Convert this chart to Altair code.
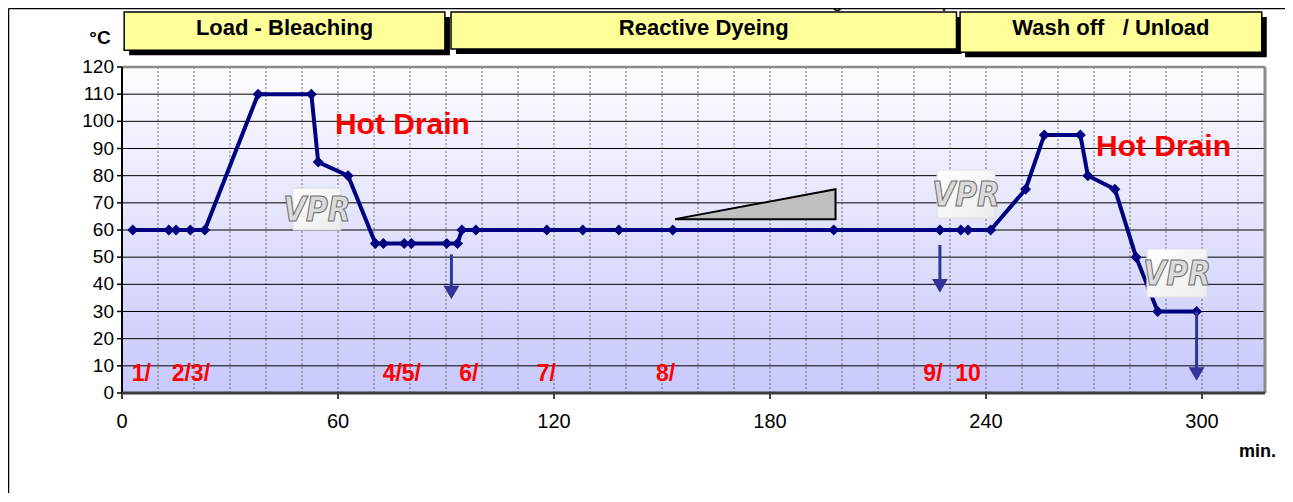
import altair as alt
import pandas as pd

# ---------------- data ----------------
# process curve (minutes, °C)
times = [3, 13, 15, 19, 23, 37.8, 52.6, 54.5, 62.8, 70.4, 72.6, 78.4, 80.4, 90.2, 93.2,
         94.4, 98.3, 118, 128, 138, 153, 197.7, 227.2, 233, 235, 241.3,
         251, 256.2, 266.2, 268.3, 275.8, 281.7, 287.7, 298.5]
temps = [60, 60, 60, 60, 60, 110, 110, 85, 80, 55, 55, 55, 55, 55, 55,
         60, 60, 60, 60, 60, 60, 60, 60, 60, 60, 60,
         75, 95, 95, 80, 75, 50, 30, 30]

# axis ticks / grid
x_labels = [0, 60, 120, 180, 240, 300]
x_grid = [10, 20, 30, 40, 50, 60, 70, 80, 90, 100, 110, 120, 130, 140, 150, 160,
          170, 180, 190, 200, 210, 220, 230, 240, 250, 260, 270, 280, 290, 300, 310]
y_ticks = [0, 10, 20, 30, 40, 50, 60, 70, 80, 90, 100, 110, 120]
y_grid = [10, 20, 30, 40, 50, 60, 70, 80, 90, 100, 110]

# phase headers
phase_names = ["Load - Bleaching", "Reactive Dyeing", "Wash off\u00a0\u00a0\u00a0/ Unload"]
phase_start = [0.6, 91.4, 232.8]
phase_end = [89.7, 231.8, 316.6]
phase_top = [140.2, 140.2, 140.2]
phase_bottom = [126.2, 126.6, 125.4]
phase_text_y = [134.3, 134.3, 134.3]

# step labels
step_labels = ["1/", "2/3/", "4/5/", "6/", "7/", "8/", "9/\u00a0\u00a010"]
step_x = [2.7, 13.8, 72.4, 93.7, 115.2, 148.3, 222.6]
step_y = [7, 7, 7, 7, 7, 7, 7]

# hot drain labels
drain_labels = ["Hot Drain", "Hot Drain"]
drain_x = [77.9, 289.3]
drain_y = [98.5, 90.5]

# VPR stamps
vpr_x0 = [47.5, 226.4, 284.7]
vpr_x1 = [60.8, 242.5, 301.4]
vpr_y0 = [60.0, 64.4, 35.3]
vpr_y1 = [75.4, 82.1, 53.0]
vpr_text = ["VPR", "VPR", "VPR"]

# drain arrows
arrow_x = [91.5, 227.2, 298.5]
arrow_from = [51.0, 54.5, 30.0]
arrow_head = [37.0, 39.4, 7.0]

# dosing ramp triangle
ramp_t = [153.6, 198.2]
ramp_top = [64, 75]
ramp_base = [64, 64]

# ---------------- frames ----------------
curve = pd.DataFrame({"t": times, "v": temps})
phases = pd.DataFrame({"x": phase_start, "x2": phase_end, "y": phase_top, "y2": phase_bottom,
                       "ty": phase_text_y, "label": phase_names})
phases["xc"] = (phases["x"] + phases["x2"]) / 2
steps = pd.DataFrame({"x": step_x, "y": step_y, "label": step_labels})
drains = pd.DataFrame({"x": drain_x, "y": drain_y, "label": drain_labels})
vprs = pd.DataFrame({"x": vpr_x0, "x2": vpr_x1, "y": vpr_y0, "y2": vpr_y1, "label": vpr_text})
vprs["xc"] = (vprs["x"] + vprs["x2"]) / 2
vprs["yc"] = (vprs["y"] + vprs["y2"]) / 2
arrows = pd.DataFrame({"x": arrow_x, "y": arrow_from, "y2": arrow_head})
ramp = pd.DataFrame({"t": ramp_t, "v": ramp_top, "v2": ramp_base})
xg = pd.DataFrame({"g": x_grid})
yg = pd.DataFrame({"g": y_grid})
xl = pd.DataFrame({"v": x_labels})
yl = pd.DataFrame({"v": y_ticks})
one = pd.DataFrame({"a": [0]})

W, H = 1143, 326
FONT = "Liberation Sans, Arial, sans-serif"
XMAX = 317.5

xs = alt.Scale(domain=[0, XMAX], nice=False, zero=False)
ys = alt.Scale(domain=[0, 120], nice=False, zero=False)


def X(f, **kw):
    return alt.X(f, type="quantitative", scale=xs, axis=None, **kw)


def Y(f, **kw):
    return alt.Y(f, type="quantitative", scale=ys, axis=None, **kw)


def XD(v):
    return alt.datum(v, type="quantitative", scale=xs, axis=None)


def YD(v):
    return alt.datum(v, type="quantitative", scale=ys, axis=None)


background = alt.Chart(one).mark_rect(
    fill=alt.LinearGradient(
        gradient="linear", x1=0, y1=0, x2=0, y2=1,
        stops=[alt.GradientStop(color="#fcfcff", offset=0),
               alt.GradientStop(color="#c8c8fb", offset=1)],
    )
).encode(x=XD(0), x2=alt.datum(XMAX), y=YD(0), y2=alt.datum(120))

vgrid = alt.Chart(xg).mark_rule(color="#6e6e6e", strokeWidth=1, strokeDash=[2, 2]).encode(
    x=X("g"), y=YD(0), y2=alt.datum(120)
)
hgrid = alt.Chart(yg).mark_rule(color="black", strokeWidth=1).encode(
    y=Y("g"), x=XD(0), x2=alt.datum(XMAX)
)

# axes (ticks, labels, domain lines) drawn from the tick lists
y_tick_marks = alt.Chart(yl).mark_rule(color="black", strokeWidth=1.5, x2Offset=-5).encode(
    y=Y("v"), x=XD(0), x2=alt.datum(0)
)
y_tick_lbls = alt.Chart(yl).mark_text(
    font=FONT, fontSize=19, color="black", align="right", baseline="middle", dx=-8
).encode(y=Y("v"), x=XD(0), text=alt.Text("v:Q", format="d"))
x_tick_marks = alt.Chart(xl).mark_rule(color="black", strokeWidth=1.5, y2Offset=6).encode(
    x=X("v"), y=YD(0), y2=alt.datum(0)
)
x_tick_lbls = alt.Chart(xl).mark_text(
    font=FONT, fontSize=20, color="black", align="center", baseline="top", dy=19
).encode(x=X("v"), y=YD(0), text=alt.Text("v:Q", format="d"))
y_domain = alt.Chart(one).mark_rule(color="black", strokeWidth=2).encode(
    x=XD(0), y=YD(0), y2=alt.datum(120)
)
x_domain = alt.Chart(one).mark_rule(color="#3c3c3c", strokeWidth=3).encode(
    x=XD(0), x2=alt.datum(XMAX), y=YD(0)
)

line = alt.Chart(curve).mark_line(color="#000080", strokeWidth=4).encode(x=X("t"), y=Y("v"))
pts = alt.Chart(curve).mark_point(shape="diamond", filled=True, size=120, color="#000080", opacity=1).encode(
    x=X("t"), y=Y("v")
)

top_border = alt.Chart(one).mark_rule(color="#8a8a8a", strokeWidth=2.5).encode(
    x=XD(0), x2=alt.datum(XMAX), y=YD(120)
)
right_border = alt.Chart(one).mark_rule(color="#8a8a8a", strokeWidth=3).encode(
    x=XD(XMAX), y=YD(0), y2=alt.datum(120)
)

ramp_area = alt.Chart(ramp).mark_area(color="#c0c0c0", stroke="black", strokeWidth=2, opacity=1).encode(
    x=X("t"), y=Y("v"), y2="v2"
)

arrow_shafts = alt.Chart(arrows).mark_rule(color="#333399", strokeWidth=3).encode(
    x=X("x"), y=Y("y"), y2="y2"
)
arrow_heads = alt.Chart(arrows).mark_point(shape="triangle-down", filled=True, size=250,
                                           color="#333399", opacity=1).encode(x=X("x"), y=Y("y2"))

vpr_box = alt.Chart(vprs).mark_rect(
    fill=alt.LinearGradient(
        gradient="linear", x1=0, y1=0, x2=1, y2=1,
        stops=[alt.GradientStop(color="#ffffff", offset=0),
               alt.GradientStop(color="#ececec", offset=1)],
    ),
    stroke="#dddddd", strokeWidth=1,
).encode(x=X("x"), x2="x2", y=Y("y"), y2="y2")
vpr_lbl = alt.Chart(vprs).mark_text(
    font="DejaVu Sans Condensed, Liberation Sans Narrow, sans-serif", fontSize=33,
    fontWeight="bold", fontStyle="italic", fill="#dadada", stroke="#6e6e6e", strokeWidth=1,
    align="center", baseline="middle", dy=2,
).encode(x=X("xc"), y=Y("yc"), text="label:N")

drain_txt = alt.Chart(drains).mark_text(
    font=FONT, fontSize=30, fontWeight="bold", color="#ff0000", align="center", baseline="middle"
).encode(x=X("x"), y=Y("y"), text="label:N")

step_txt = alt.Chart(steps).mark_text(
    font=FONT, fontSize=23, fontWeight="bold", color="#ff0000", align="left", baseline="middle"
).encode(x=X("x"), y=Y("y"), text="label:N")

hdr_shadow = alt.Chart(phases).mark_rect(color="black", xOffset=5, x2Offset=5, yOffset=5, y2Offset=5).encode(
    x=X("x"), x2="x2", y=Y("y"), y2="y2"
)
hdr_box = alt.Chart(phases).mark_rect(fill="#ffff99", stroke="black", strokeWidth=1.5).encode(
    x=X("x"), x2="x2", y=Y("y"), y2="y2"
)
hdr_txt = alt.Chart(phases).mark_text(
    font=FONT, fontSize=22, fontWeight="bold", color="black", align="center", baseline="middle"
).encode(x=X("xc"), y=Y("ty"), text="label:N")

unit_c = alt.Chart(one).mark_text(
    text="°C", font=FONT, fontSize=19, fontWeight="bold", color="black", align="center", baseline="middle"
).encode(x=alt.value(-22), y=alt.value(-29))
unit_min = alt.Chart(one).mark_text(
    text="min.", font=FONT, fontSize=18, fontWeight="bold", color="black", align="right", baseline="middle"
).encode(x=alt.value(1154), y=alt.value(385))
note = alt.Chart(one).mark_text(
    text="** cooling water recuperated", font=FONT, fontSize=20, color="black",
    align="center", baseline="alphabetic"
).encode(x=alt.value(762), y=alt.value(-60))

frame_left = alt.Chart(one).mark_rule(color="black", strokeWidth=1.5).encode(
    x=alt.value(-113.5), y=alt.value(-58.5), y2=alt.value(440)
)
frame_top = alt.Chart(one).mark_rule(color="black", strokeWidth=1.5).encode(
    x=alt.value(-113.5), x2=alt.value(1175), y=alt.value(-58.5)
)

chart = alt.layer(
    background, vgrid, hgrid, y_tick_marks, y_tick_lbls, x_tick_marks, x_tick_lbls,
    line, ramp_area, pts, arrow_shafts, arrow_heads, vpr_box, vpr_lbl,
    drain_txt, step_txt, top_border, right_border, y_domain, x_domain,
    hdr_shadow, hdr_box, hdr_txt, unit_c, unit_min, note, frame_left, frame_top,
).properties(
    width=W, height=H,
    padding={"left": 114, "top": 59, "right": 20, "bottom": 100},
    autosize=alt.AutoSizeParams(type="none"),
).configure_view(
    stroke=None
).configure(background="white")

chart.save("out.html", embed_options={"renderer": "svg", "actions": False})
